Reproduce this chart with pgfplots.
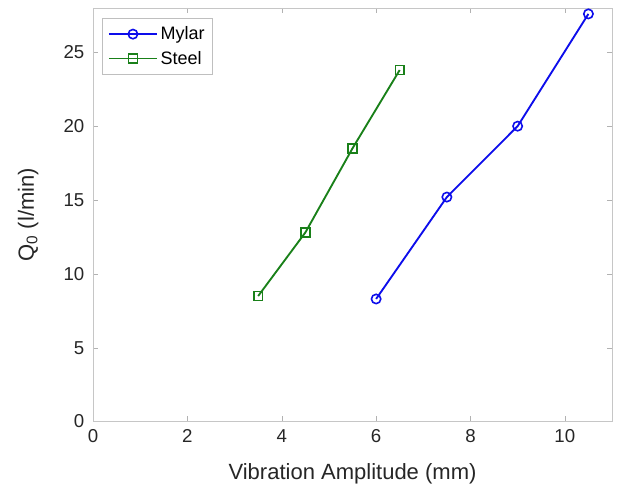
\documentclass[border=0pt]{standalone}
\usepackage{fontspec}
\setmainfont{Liberation Sans}
\usepackage{pgfplots}
\pgfplotsset{compat=1.18}
\definecolor{mblue}{rgb}{0.05,0.05,0.92}
\definecolor{mgreen}{rgb}{0.1,0.5,0.1}
\begin{document}
\begin{tikzpicture}
\begin{axis}[
    name=ax,
    scale only axis,
    width=389pt, height=310pt,
    xmin=0, xmax=11, ymin=0, ymax=28,
    xtick={0,2,4,6,8,10},
    ytick={0,5,10,15,20,25},
    tick align=inside,
    axis line style={gray!45, line width=0.6pt},
    tick style={gray!60},
    major tick length=4pt,
    ticklabel style={font=\fontsize{14}{16}\selectfont, text=black!85},
    xticklabel style={yshift=-2.5pt},
    yticklabel style={xshift=-3pt},
    /pgf/number format/assume math mode=true,
    xlabel={Vibration Amplitude (mm)},
    ylabel={Q\textsubscript{0} (l/min)},
    label style={font=\fontsize{16.5}{19}\selectfont, text=black!85},
    xlabel style={yshift=-9pt},
    ylabel style={yshift=12pt},
    legend style={at={(0.018,0.975)}, anchor=north west, draw=gray!50,
        font=\fontsize{13.5}{16}\selectfont, row sep=3pt, inner sep=4pt},
    legend image code/.code={
        \draw[mark repeat=2, mark phase=2, #1]
        plot coordinates {(0pt,0pt) (18pt,0pt) (36pt,0pt)};},
    legend cell align=left,
]
\addplot[mblue, line width=1.4pt, mark=o, mark size=3.5pt, mark options={line width=1.2pt}]
  coordinates {(6,8.3) (7.5,15.2) (9,20) (10.5,27.6)};
\addlegendentry{Mylar}
\addplot[mgreen, line width=1.4pt, mark=square, mark size=3.3pt, mark options={line width=1.2pt}]
  coordinates {(3.5,8.5) (4.5,12.8) (5.5,18.5) (6.5,23.8)};
\addlegendentry{Steel}
\end{axis}
\pgfresetboundingbox
\path ([shift={(-69.75pt,-49.5pt)}]ax.south west) rectangle ([shift={(4.5pt,6pt)}]ax.north east);
\end{tikzpicture}
\end{document}
